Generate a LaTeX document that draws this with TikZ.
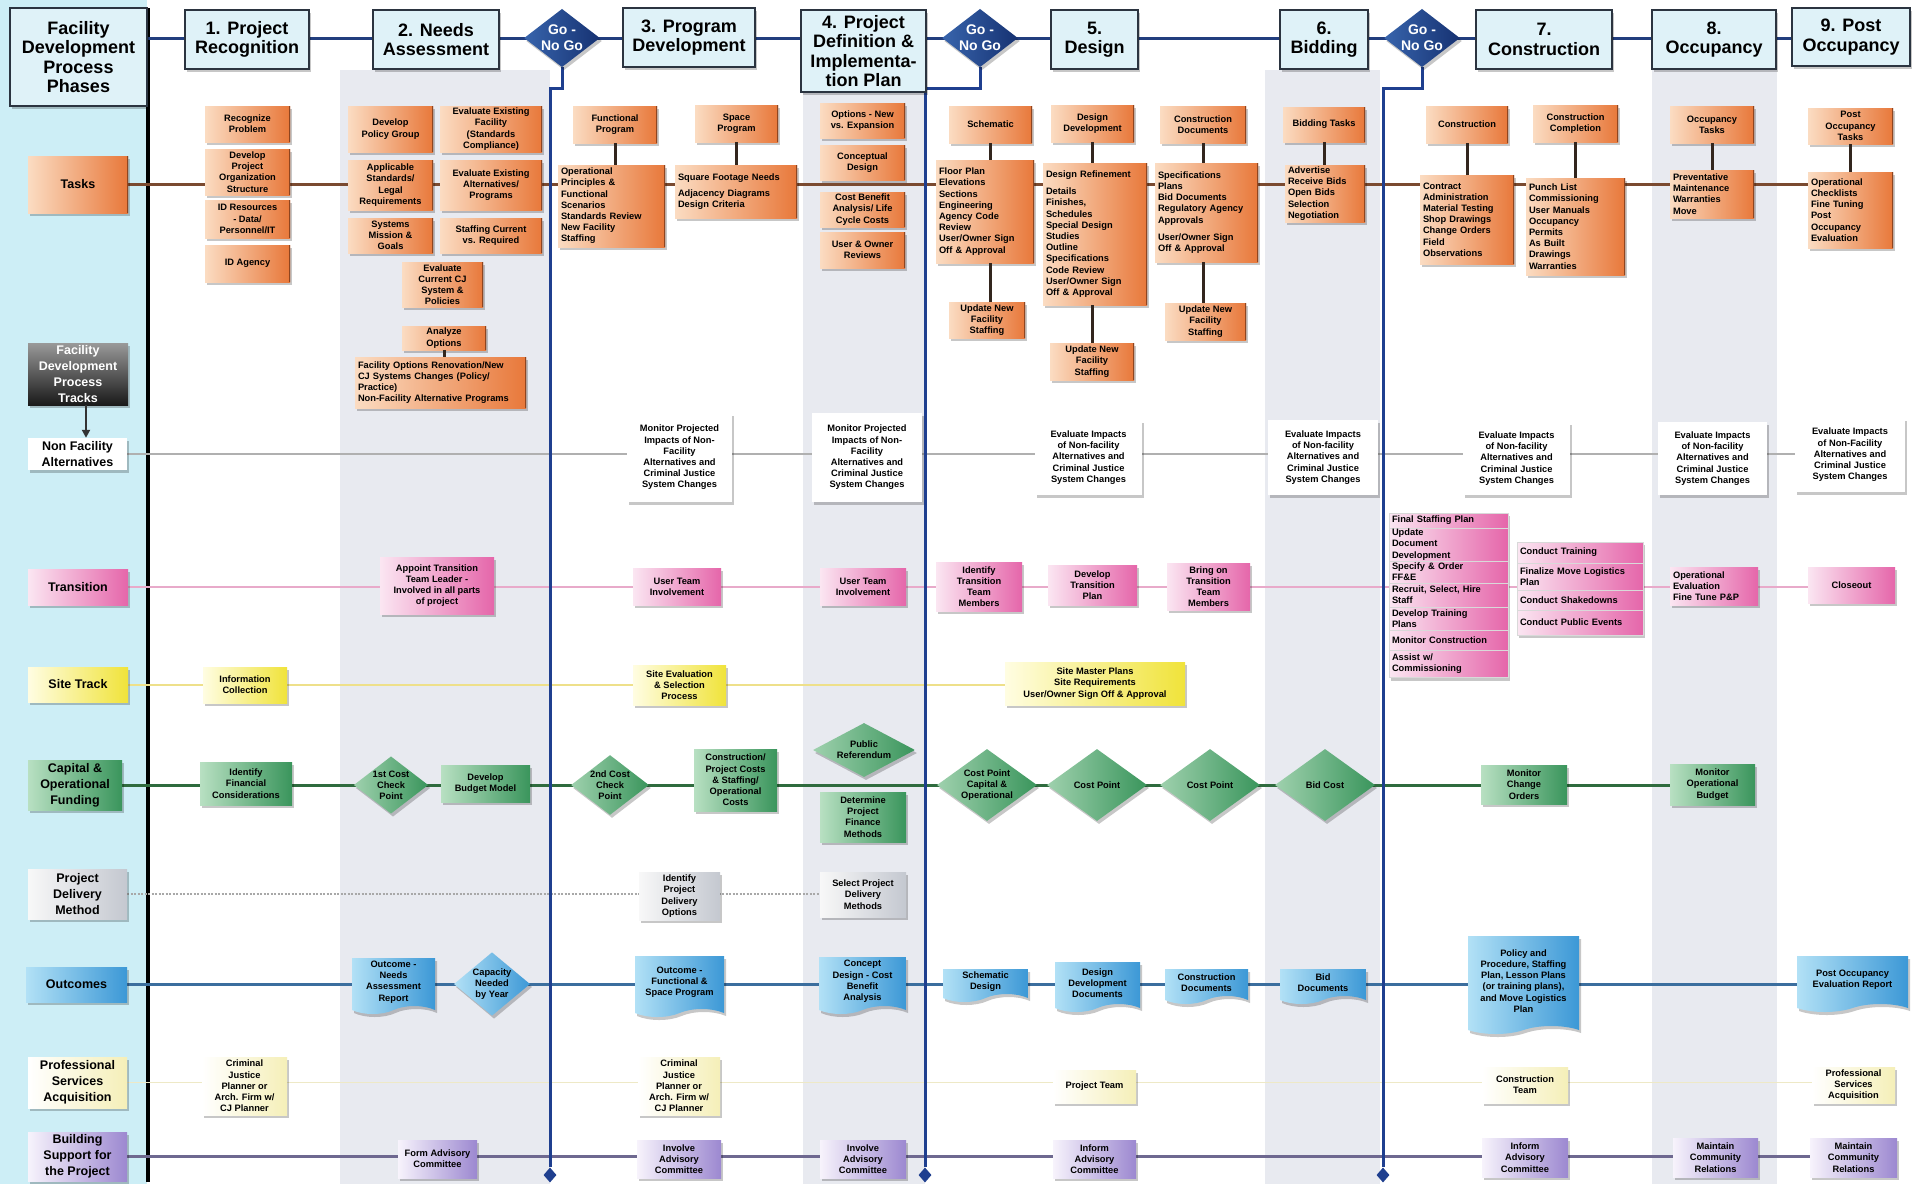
\documentclass[tikz,border=0pt]{standalone}
\usepackage{fontspec}
\setmainfont{Liberation Sans}
\usetikzlibrary{shapes.geometric,shapes.symbols,shadows,arrows.meta}
\pgfdeclarelayer{back}
\pgfdeclarelayer{bg}
\pgfsetlayers{back,bg,main}
\definecolor{orL}{HTML}{FBDCC2}
\definecolor{orR}{HTML}{E8783A}
\definecolor{orD}{HTML}{8E4520}
\definecolor{pkL}{HTML}{FBE6F2}
\definecolor{pkR}{HTML}{E566AA}
\definecolor{ylL}{HTML}{FFFDE2}
\definecolor{ylR}{HTML}{F0E33A}
\definecolor{grL}{HTML}{B8E0C2}
\definecolor{grR}{HTML}{3A955C}
\definecolor{blL}{HTML}{B2E1F6}
\definecolor{blR}{HTML}{3C98D6}
\definecolor{puL}{HTML}{F7F3FC}
\definecolor{puR}{HTML}{9C88D0}
\definecolor{gyL}{HTML}{F8F8F8}
\definecolor{gyR}{HTML}{C4C8D0}
\definecolor{psR}{HTML}{F5EFB8}
\definecolor{hdF}{HTML}{DFF2F8}
\definecolor{hdD}{HTML}{2B3440}
\definecolor{goA}{HTML}{3864AC}
\definecolor{goB}{HTML}{163272}
\definecolor{colG}{HTML}{E8EAF0}
\definecolor{leftC}{HTML}{CDEEF6}
\definecolor{hdrL}{HTML}{223E7E}
\definecolor{tkL}{HTML}{7A4A30}
\definecolor{tcC}{HTML}{33261E}
\definecolor{nfL}{HTML}{B0B0B0}
\definecolor{trL}{HTML}{E8AACA}
\definecolor{stL}{HTML}{EEE08A}
\definecolor{cpL}{HTML}{2F6B3E}
\definecolor{pdL}{HTML}{A8A8A8}
\definecolor{ocL}{HTML}{3B6E9E}
\definecolor{psL}{HTML}{EEE9C6}
\definecolor{bsL}{HTML}{6E6890}
\definecolor{goL}{HTML}{1F3F8F}
\newcommand\fsm{\bfseries\fontsize{9.3}{11.2}\selectfont}
\newcommand\frw{\bfseries\fontsize{12.5}{16}\selectfont}
\newcommand\fhd{\bfseries\fontsize{18}{19.5}\selectfont}
\newcommand\fgo{\bfseries\fontsize{14}{16}\selectfont}
\newcommand\mkbox[7][]{\node[#1, minimum width={(#5)-(#3)}, minimum height={(#6)-(#4)}] (#2) at ({((#3)+(#5))/2},{((#4)+(#6))/2}) {#7};}
\newcommand\mklist[7][]{\pgfmathsetmacro\lstw{(#5)-(#3)-6}\node[#1, align=left, text width=\lstw pt, inner xsep=3pt, minimum width={(#5)-(#3)}, minimum height={(#6)-(#4)}] (#2) at ({((#3)+(#5))/2},{((#4)+(#6))/2}) {#7};}
\newcommand\mkdoc[6]{\node[docbox, minimum width={(#4)-(#2)}, minimum height={(#5)-(#3)}] (#1) at ({((#2)+(#4))/2},{((#3)+(#5))/2}) {#6};}
\tikzset{
 bbase/.style={font=\fsm, align=center, inner sep=1pt, text=black},
 shad/.style={drop shadow={shadow xshift=2pt, shadow yshift=-3pt, opacity=0.22, fill=black}},
 orbox/.style={bbase, shad, left color=orL, right color=orR, path picture={\draw[line width=2.5pt, orD] (path picture bounding box.north east) -- (path picture bounding box.south east);}},
 pkbox/.style={bbase, shad, left color=pkL, right color=pkR},
 pkcell/.style={bbase, left color=pkL, right color=pkR, draw=white!85!black, line width=0.6pt, inner ysep=0.5pt},
 ylbox/.style={bbase, shad, left color=ylL, right color=ylR},
 grbox/.style={bbase, shad, left color=grL, right color=grR},
 gybox/.style={bbase, shad, left color=gyL, right color=gyR},
 pubox/.style={bbase, shad, left color=puL, right color=puR},
 psbox/.style={bbase, shad, left color=white, right color=psR},
 wbox/.style={bbase, shad, fill=white},
 blbox/.style={bbase, shad, left color=blL, right color=blR},
 hdrbox/.style={bbase, font=\fhd, shad, fill=hdF, draw=hdD, line width=1.6pt},
 rowlab/.style={font=\frw},
 trkbox/.style={bbase, font=\frw, text=white, top color=black!40, bottom color=black!90, shad},
 gonogo/.style={diamond, shape aspect=1.3, inner sep=0pt, font=\fgo, align=center, text=white, left color=goA, right color=goB, shad},
 grdia/.style={diamond, bbase, inner sep=0pt, shape aspect=1.3, left color=grL!80!grR, right color=grR, shad},
 grdia2/.style={grdia, shape aspect=1.9, minimum width=102, minimum height=54},
 grdia3/.style={grdia, shape aspect=1.4, minimum width=100, minimum height=72},
 bldia/.style={diamond, bbase, inner sep=0pt, shape aspect=1.2, left color=blL, right color=blR, shad},
 docbox/.style={tape, tape bend top=none, tape bend bottom=in and out, tape bend height=8pt, bbase, left color=blL, right color=blR, shad},
 endmark/.style={diamond, fill=goL, minimum width=13, minimum height=15, inner sep=0pt},
 hline/.style={line width=3pt, color=hdrL},
 tline/.style={line width=3pt, color=tkL},
 tcon/.style={line width=3pt, color=tcC},
 nline/.style={line width=1.8pt, color=nfL},
 rline/.style={line width=2pt, color=trL},
 sline/.style={line width=2pt, color=stL},
 cline/.style={line width=3pt, color=cpL},
 dline/.style={line width=1.5pt, color=pdL, dash pattern=on 2pt off 1.5pt},
 oline/.style={line width=3pt, color=ocL},
 qline/.style={line width=1.5pt, color=psL},
 bline/.style={line width=3pt, color=bsL},
 gline/.style={line width=3pt, color=goL},
}
\begin{document}
\begin{tikzpicture}[x=1pt,y=-1pt]
\useasboundingbox (0,0) rectangle (1919,1184);
\begin{pgfonlayer}{back}
\fill[white] (0,0) rectangle (1919,1184);
\fill[leftC] (0,0) rectangle (147,1184);
\fill[colG] (340,70) rectangle (550,1184);
\fill[colG] (803,70) rectangle (925,1184);
\fill[colG] (1265,70) rectangle (1380,1184);
\fill[colG] (1652,70) rectangle (1777,1184);
\draw[line width=3.5pt, black] (148,8) -- (148,1182);
\end{pgfonlayer}

% ---------- headers
\mkbox[hdrbox]{phases}{10}{8}{147}{106}{Facility\\Development\\Process\\Phases}
\mkbox[hdrbox]{p1}{185}{10}{309}{69}{1. Project\\Recognition}
\mkbox[hdrbox]{p2}{373}{10}{499}{69}{2. Needs\\Assessment}
\node[gonogo] (g1) at (562,38) {Go -\\No Go};
\mkbox[hdrbox]{p3}{623}{8}{755}{67}{3. Program\\Development}
\mkbox[hdrbox]{p4}{801}{10}{926}{92}{4. Project\\Definition \&\\Implementa-\\tion Plan}
\node[gonogo] (g2) at (980,38) {Go -\\No Go};
\mkbox[hdrbox]{p5}{1051}{10}{1138}{69}{5.\\Design}
\mkbox[hdrbox]{p6}{1280}{10}{1368}{69}{6.\\Bidding}
\node[gonogo] (g3) at (1422,38) {Go -\\No Go};
\mkbox[hdrbox]{p7}{1476}{10}{1612}{69}{7.\\Construction}
\mkbox[hdrbox]{p8}{1652}{10}{1776}{69}{8.\\Occupancy}
\mkbox[hdrbox]{p9}{1792}{8}{1910}{66}{9. Post\\Occupancy}

% ---------- row labels
\mkbox[orbox,rowlab]{tasks}{28}{156}{128}{213}{Tasks}
\mkbox[trkbox]{tracks}{28}{343}{128}{405}{Facility\\Development\\Process\\Tracks}
\mkbox[wbox,rowlab]{nfl}{28}{438}{127}{470}{Non Facility\\Alternatives}
\mkbox[pkbox,rowlab]{trl}{28}{569}{128}{605}{Transition}
\mkbox[ylbox,rowlab]{stl}{28}{667}{128}{702}{Site Track}
\mkbox[grbox,rowlab]{cpl}{28}{760}{122}{810}{Capital \&\\Operational\\Funding}
\mkbox[gybox,rowlab]{pdl}{28}{869}{127}{919}{Project\\Delivery\\Method}
\mkbox[blbox,rowlab]{ocl}{26}{967}{127}{1002}{Outcomes}
\mkbox[psbox,rowlab]{psl}{28}{1057}{127}{1108}{Professional\\Services\\Acquisition}
\mkbox[pubox,rowlab]{bsl}{28}{1132}{127}{1181}{Building\\Support for\\the Project}

% ---------- tasks
\mkbox[orbox]{t11}{205}{106}{290}{142}{Recognize\\Problem}
\mkbox[orbox]{t12}{205}{149}{290}{195}{Develop\\Project\\Organization\\Structure}
\mkbox[orbox]{t13}{205}{200}{290}{238}{ID Resources\\- Data/\\Personnel/IT}
\mkbox[orbox]{t14}{205}{245}{290}{282}{ID Agency}
\mkbox[orbox]{t21}{348}{106}{433}{152}{Develop\\Policy Group}
\mkbox[orbox]{t22}{440}{106}{542}{152}{Evaluate Existing\\Facility\\(Standards\\Compliance)}
\mkbox[orbox]{t23}{348}{160}{433}{210}{Applicable\\Standards/\\Legal\\Requirements}
\mkbox[orbox]{t24}{440}{160}{542}{210}{Evaluate Existing\\Alternatives/\\Programs}
\mkbox[orbox]{t25}{348}{218}{433}{253}{Systems\\Mission \&\\Goals}
\mkbox[orbox]{t26}{440}{218}{542}{253}{Staffing Current\\vs. Required}
\mkbox[orbox]{t27}{402}{262}{483}{307}{Evaluate\\Current CJ\\System \&\\Policies}
\mkbox[orbox]{t28}{402}{326}{486}{350}{Analyze\\Options}
\mklist[orbox]{t29}{355}{357}{526}{408}{Facility Options Renovation/New\\CJ Systems Changes (Policy/\\Practice)\\Non-Facility Alternative Programs}
\mkbox[orbox]{t31}{573}{106}{657}{143}{Functional\\Program}
\mklist[orbox]{t32}{558}{165}{665}{247}{Operational\\Principles \&\\Functional\\Scenarios\\Standards Review\\New Facility\\Staffing}
\mkbox[orbox]{t33}{695}{105}{778}{142}{Space\\Program}
\mklist[orbox]{t34}{675}{165}{797}{218}{Square Footage Needs\\[5pt]Adjacency Diagrams\\Design Criteria}
\mkbox[orbox]{t41}{820}{103}{905}{138}{Options - New\\vs. Expansion}
\mkbox[orbox]{t42}{820}{145}{905}{180}{Conceptual\\Design}
\mkbox[orbox]{t43}{820}{192}{905}{227}{Cost Benefit\\Analysis/ Life\\Cycle Costs}
\mkbox[orbox]{t44}{820}{232}{905}{268}{User \& Owner\\Reviews}
\mkbox[orbox]{t51}{949}{106}{1032}{143}{Schematic}
\mklist[orbox]{t52}{936}{160}{1034}{263}{Floor Plan\\Elevations\\Sections\\Engineering\\Agency Code\\Review\\User/Owner Sign\\Off \& Approval}
\mkbox[orbox]{t53}{949}{302}{1025}{338}{Update New\\Facility\\Staffing}
\mkbox[orbox]{t54}{1051}{105}{1134}{142}{Design\\Development}
\mklist[orbox]{t55}{1043}{163}{1147}{305}{Design Refinement\\[6pt]Details\\Finishes,\\Schedules\\Special Design\\Studies\\Outline\\Specifications\\Code Review\\User/Owner Sign\\Off \& Approval}
\mkbox[orbox]{t56}{1050}{343}{1134}{380}{Update New\\Facility\\Staffing}
\mkbox[orbox]{t57}{1160}{106}{1246}{143}{Construction\\Documents}
\mklist[orbox]{t58}{1155}{163}{1258}{262}{Specifications\\Plans\\Bid Documents\\Regulatory Agency\\Approvals\\[6pt]User/Owner Sign\\Off \& Approval}
\mkbox[orbox]{t59}{1165}{303}{1246}{340}{Update New\\Facility\\Staffing}
\mkbox[orbox]{t61}{1283}{107}{1365}{142}{Bidding Tasks}
\mklist[orbox]{t62}{1285}{165}{1365}{222}{Advertise\\Receive Bids\\Open Bids\\Selection\\Negotiation}
\mkbox[orbox]{t71}{1426}{106}{1508}{143}{Construction}
\mklist[orbox]{t72}{1420}{175}{1514}{264}{Contract\\Administration\\Material Testing\\Shop Drawings\\Change Orders\\Field\\Observations}
\mkbox[orbox]{t73}{1533}{105}{1618}{142}{Construction\\Completion}
\mklist[orbox]{t74}{1526}{178}{1625}{275}{Punch List\\Commissioning\\User Manuals\\Occupancy\\Permits\\As Built\\Drawings\\Warranties}
\mkbox[orbox]{t81}{1670}{106}{1754}{143}{Occupancy\\Tasks}
\mklist[orbox]{t82}{1670}{170}{1754}{218}{Preventative\\Maintenance\\Warranties\\Move}
\mkbox[orbox]{t91}{1808}{108}{1893}{144}{Post\\Occupancy\\Tasks}
\mklist[orbox]{t92}{1808}{172}{1893}{248}{Operational\\Checklists\\Fine Tuning\\Post\\Occupancy\\Evaluation}

% ---------- non facility alternatives
\mkbox[wbox]{n3}{627}{413}{732}{502}{Monitor Projected\\Impacts of Non-\\Facility\\Alternatives and\\Criminal Justice\\System Changes}
\mkbox[wbox]{n4}{812}{413}{922}{502}{Monitor Projected\\Impacts of Non-\\Facility\\Alternatives and\\Criminal Justice\\System Changes}
\mkbox[wbox]{n5}{1035}{420}{1142}{495}{Evaluate Impacts\\of Non-facility\\Alternatives and\\Criminal Justice\\System Changes}
\mkbox[wbox]{n6}{1268}{420}{1378}{495}{Evaluate Impacts\\of Non-facility\\Alternatives and\\Criminal Justice\\System Changes}
\mkbox[wbox]{n7}{1463}{422}{1570}{495}{Evaluate Impacts\\of Non-facility\\Alternatives and\\Criminal Justice\\System Changes}
\mkbox[wbox]{n8}{1658}{422}{1767}{495}{Evaluate Impacts\\of Non-facility\\Alternatives and\\Criminal Justice\\System Changes}
\mkbox[wbox]{n9}{1795}{418}{1905}{492}{Evaluate Impacts\\of Non-Facility\\Alternatives and\\Criminal Justice\\System Changes}

% ---------- transition
\mkbox[pkbox]{r2}{380}{557}{494}{614}{Appoint Transition\\Team Leader -\\Involved in all parts\\of project}
\mkbox[pkbox]{r3}{633}{568}{721}{605}{User Team\\Involvement}
\mkbox[pkbox]{r4}{820}{568}{906}{605}{User Team\\Involvement}
\mkbox[pkbox]{r51}{936}{562}{1022}{611}{Identify\\Transition\\Team\\Members}
\mkbox[pkbox]{r52}{1048}{565}{1137}{605}{Develop\\Transition\\Plan}
\mkbox[pkbox]{r53}{1167}{563}{1250}{610}{Bring on\\Transition\\Team\\Members}
\fill[black, opacity=0.22] (1391,516) rectangle (1510,681);
\mklist[pkcell]{r7a}{1389}{513}{1508}{528}{Final Staffing Plan}
\mklist[pkcell]{r7b}{1389}{528}{1508}{561}{Update\\Document\\Development}
\mklist[pkcell]{r7c}{1389}{561}{1508}{583}{Specify \& Order\\FF\&E}
\mklist[pkcell]{r7d}{1389}{583}{1508}{607}{Recruit, Select, Hire\\Staff}
\mklist[pkcell]{r7e}{1389}{607}{1508}{630}{Develop Training\\Plans}
\mklist[pkcell]{r7f}{1389}{630}{1508}{650}{Monitor Construction}
\mklist[pkcell]{r7g}{1389}{650}{1508}{677}{Assist w/\\Commissioning}
\fill[black, opacity=0.22] (1519,545) rectangle (1645,638);
\mklist[pkcell]{r7h}{1517}{542}{1643}{563}{Conduct Training}
\mklist[pkcell]{r7i}{1517}{563}{1643}{590}{Finalize Move Logistics\\Plan}
\mklist[pkcell]{r7j}{1517}{590}{1643}{610}{Conduct Shakedowns}
\mklist[pkcell]{r7k}{1517}{610}{1643}{635}{Conduct Public Events}
\mklist[pkbox]{r8}{1670}{567}{1758}{605}{Operational\\Evaluation\\Fine Tune P\&P}
\mkbox[pkbox]{r9}{1808}{567}{1895}{603}{Closeout}

% ---------- site track
\mkbox[ylbox]{s1}{203}{667}{287}{703}{Information\\Collection}
\mkbox[ylbox]{s3}{633}{665}{726}{705}{Site Evaluation\\\& Selection\\Process}
\mkbox[ylbox]{s5}{1005}{662}{1185}{705}{Site Master Plans\\Site Requirements\\User/Owner Sign Off \& Approval}

% ---------- capital & operational funding
\mkbox[grbox]{c1}{200}{762}{292}{805}{Identify\\Financial\\Considerations}
\node[grdia] (c2) at (391,785) {1st Cost\\Check\\Point};
\mkbox[grbox]{c3}{441}{765}{530}{802}{Develop\\Budget Model}
\node[grdia] (c4) at (610,785) {2nd Cost\\Check\\Point};
\mkbox[grbox]{c5}{694}{749}{777}{811}{Construction/\\Project Costs\\\& Staffing/\\Operational\\Costs}
\node[grdia2] (c6) at (864,750) {Public\\Referendum};
\mkbox[grbox]{c7}{820}{792}{906}{842}{Determine\\Project\\Finance\\Methods}
\node[grdia3] (c8) at (987,785) {Cost Point\\Capital \&\\Operational};
\node[grdia3] (c9) at (1097,785) {Cost Point};
\node[grdia3] (c10) at (1210,785) {Cost Point};
\node[grdia3] (c11) at (1325,785) {Bid Cost};
\mkbox[grbox]{c12}{1481}{765}{1567}{804}{Monitor\\Change\\Orders}
\mkbox[grbox]{c13}{1670}{764}{1755}{805}{Monitor\\Operational\\Budget}

% ---------- project delivery
\mkbox[gybox]{d3}{639}{872}{720}{920}{Identify\\Project\\Delivery\\Options}
\mkbox[gybox]{d4}{820}{872}{906}{917}{Select Project\\Delivery\\Methods}

% ---------- outcomes
\mkdoc{o2}{352}{954}{435}{1010}{Outcome -\\Needs\\Assessment\\Report}
\node[bldia] (o2b) at (492,984) {Capacity\\Needed\\by Year};
\mkdoc{o3}{635}{952}{724}{1013}{Outcome -\\Functional \&\\Space Program}
\mkdoc{o4}{819}{953}{906}{1010}{Concept\\Design - Cost\\Benefit\\Analysis}
\mkdoc{o51}{943}{965}{1028}{998}{Schematic\\Design}
\mkdoc{o52}{1055}{958}{1140}{1008}{Design\\Development\\Documents}
\mkdoc{o53}{1165}{965}{1248}{1000}{Construction\\Documents}
\mkdoc{o6}{1280}{965}{1366}{1000}{Bid\\Documents}
\mkdoc{o7}{1468}{932}{1579}{1030}{Policy and\\Procedure, Staffing\\Plan, Lesson Plans\\(or training plans),\\and Move Logistics\\Plan}
\mkdoc{o9}{1797}{952}{1908}{1008}{Post Occupancy\\Evaluation Report}

% ---------- professional services
\mkbox[psbox]{q1}{202}{1057}{287}{1115}{Criminal\\Justice\\Planner or\\Arch. Firm w/\\CJ Planner}
\mkbox[psbox]{q3}{638}{1057}{720}{1115}{Criminal\\Justice\\Planner or\\Arch. Firm w/\\CJ Planner}
\mkbox[psbox]{q5}{1053}{1070}{1136}{1103}{Project Team}
\mkbox[psbox]{q7}{1482}{1067}{1568}{1103}{Construction\\Team}
\mkbox[psbox]{q9}{1812}{1067}{1895}{1103}{Professional\\Services\\Acquisition}

% ---------- building support
\mkbox[pubox]{b2}{398}{1140}{477}{1178}{Form Advisory\\Committee}
\mkbox[pubox]{b3}{637}{1140}{721}{1178}{Involve\\Advisory\\Committee}
\mkbox[pubox]{b4}{820}{1140}{906}{1178}{Involve\\Advisory\\Committee}
\mkbox[pubox]{b5}{1053}{1140}{1136}{1178}{Inform\\Advisory\\Committee}
\mkbox[pubox]{b7}{1482}{1138}{1568}{1177}{Inform\\Advisory\\Committee}
\mkbox[pubox]{b8}{1673}{1138}{1758}{1177}{Maintain\\Community\\Relations}
\mkbox[pubox]{b9}{1810}{1138}{1897}{1177}{Maintain\\Community\\Relations}

% ---------- go/no go end markers
\node[endmark] (e1) at (550,1175) {};
\node[endmark] (e2) at (925,1175) {};
\node[endmark] (e3) at (1383,1175) {};

% ---------- connectors
\begin{pgfonlayer}{bg}
\draw[hline] (phases.east |- g1) -- (p9.west |- g1);
\draw[tline] (tasks.east) -- (tasks.east -| t92.west);
\draw[nline] (nfl.east) -- (nfl.east -| n9.west);
\draw[rline] (trl.east) -- (trl.east -| r9.west);
\draw[sline] (stl.east) -- (stl.east -| s5.west);
\draw[cline] (cpl.east) -- (cpl.east -| c13.west);
\draw[dline] (pdl.east) -- (pdl.east -| d4.west);
\draw[oline] (ocl.east) -- (ocl.east -| o9.west);
\draw[qline] (psl.east) -- (psl.east -| q9.west);
\draw[bline] (bsl.east) -- (bsl.east -| b9.west);
\draw[gline] (g1.south) -- ++(0,21) -| (e1.north);
\draw[gline] (g2.south) -- ++(0,21) -| (e2.north);
\draw[gline] (g3.south) -- ++(0,21) -| (e3.north);
\end{pgfonlayer}
\draw[tcon] (t28.south) -- (t28.south |- t29.north);
\draw[tcon] (t31.south) -- (t31.south |- t32.north);
\draw[tcon] (t33.south) -- (t33.south |- t34.north);
\draw[tcon] (t51.south) -- (t51.south |- t52.north);
\draw[tcon] (t52.south -| t51.south) -- (t51.south |- t53.north);
\draw[tcon] (t54.south) -- (t54.south |- t55.north);
\draw[tcon] (t55.south -| t54.south) -- (t54.south |- t56.north);
\draw[tcon] (t57.south) -- (t57.south |- t58.north);
\draw[tcon] (t58.south -| t57.south) -- (t57.south |- t59.north);
\draw[tcon] (t61.south) -- (t61.south |- t62.north);
\draw[tcon] (t71.south) -- (t71.south |- t72.north);
\draw[tcon] (t73.south) -- (t73.south |- t74.north);
\draw[tcon] (t81.south) -- (t81.south |- t82.north);
\draw[tcon] (t91.south) -- (t91.south |- t92.north);
\draw[line width=2pt, black!80, -{Triangle[length=8pt,width=8pt]}] ([xshift=8pt]tracks.south) -- ([xshift=8pt]tracks.south |- nfl.north);
\end{tikzpicture}
\end{document}
